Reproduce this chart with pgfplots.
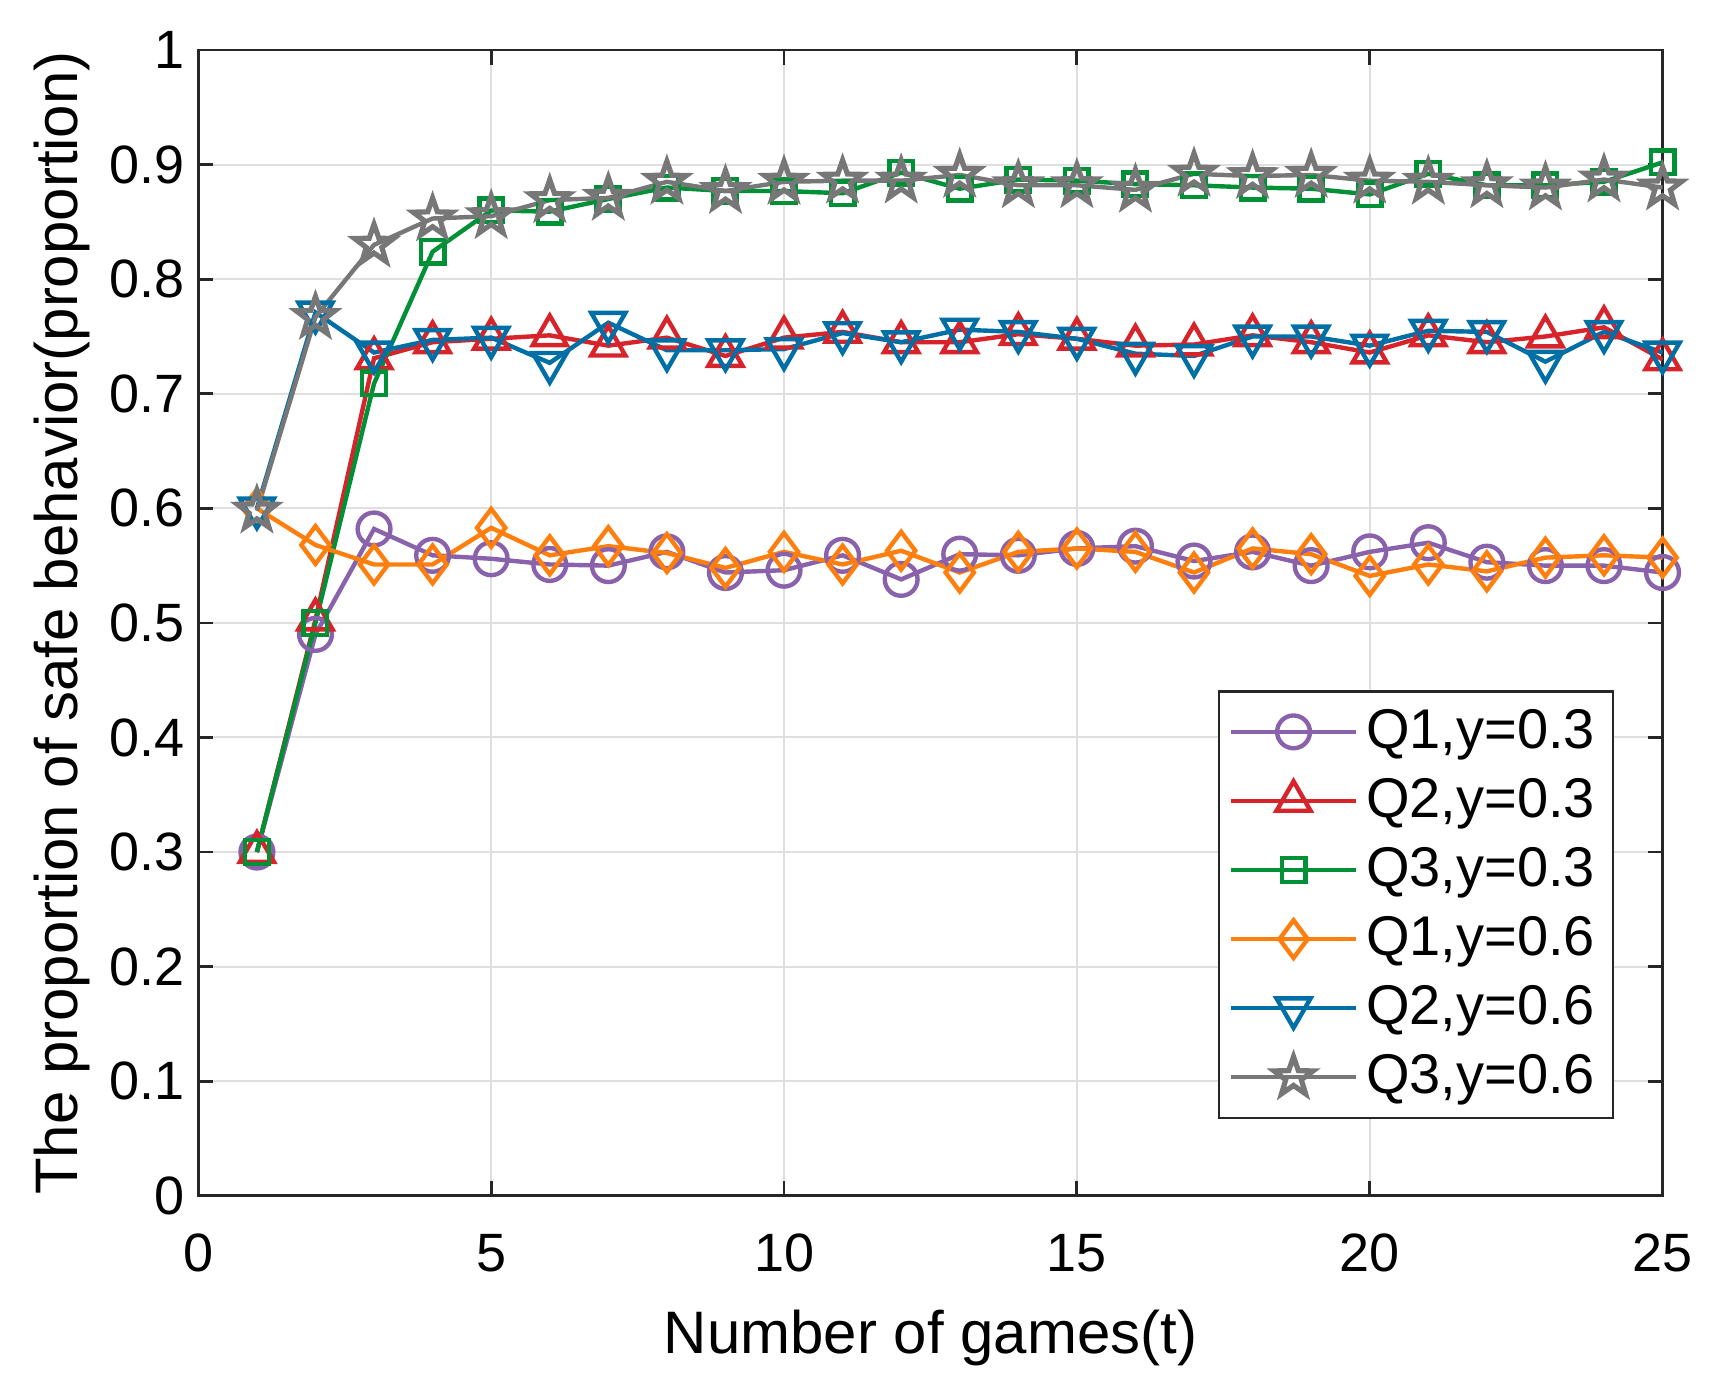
\documentclass[border=0pt]{standalone}
\usepackage{fontspec}
\setmainfont{Liberation Sans}
\usepackage{pgfplots}
\pgfplotsset{compat=1.18}

\definecolor{cpurple}{RGB}{137,98,171}
\definecolor{cred}{RGB}{215,36,43}
\definecolor{cgreen}{RGB}{0,144,54}
\definecolor{corange}{RGB}{255,127,14}
\definecolor{cblue}{RGB}{0,111,166}
\definecolor{cgray}{RGB}{119,119,119}

% five-pointed star outline, like MATLAB's pentagram
\pgfdeclareplotmark{pentagram}{%
  \pgfpathmoveto{\pgfqpointpolar{90}{1.25\pgfplotmarksize}}%
  \pgfpathlineto{\pgfqpointpolar{126}{0.5\pgfplotmarksize}}%
  \pgfpathlineto{\pgfqpointpolar{162}{1.25\pgfplotmarksize}}%
  \pgfpathlineto{\pgfqpointpolar{198}{0.5\pgfplotmarksize}}%
  \pgfpathlineto{\pgfqpointpolar{234}{1.25\pgfplotmarksize}}%
  \pgfpathlineto{\pgfqpointpolar{270}{0.5\pgfplotmarksize}}%
  \pgfpathlineto{\pgfqpointpolar{306}{1.25\pgfplotmarksize}}%
  \pgfpathlineto{\pgfqpointpolar{342}{0.5\pgfplotmarksize}}%
  \pgfpathlineto{\pgfqpointpolar{18}{1.25\pgfplotmarksize}}%
  \pgfpathlineto{\pgfqpointpolar{54}{0.5\pgfplotmarksize}}%
  \pgfpathclose
  \pgfusepathqstroke
}

\begin{document}
\begin{tikzpicture}
  \begin{axis}[
    width=12.87cm, height=10.07cm,
    scale only axis,
    xmin=0, xmax=25, ymin=0, ymax=1,
    xtick={0,5,10,15,20,25},
    ytick={0,0.1,0.2,0.3,0.4,0.5,0.6,0.7,0.8,0.9,1},
    yticklabels={0,0.1,0.2,0.3,0.4,0.5,0.6,0.7,0.8,0.9,1},
    tick align=inside,
    major tick length=0.13cm,
    grid=major,
    grid style={gray!25, line width=0.5pt},
    axis line style={line width=0.7pt, black!85},
    tick style={line width=0.7pt, black!85},
    ticklabel style={font=\fontsize{13.5}{15}\selectfont},
    xticklabel style={yshift=-6pt},
    /pgf/number format/assume math mode=true,
    xlabel={Number of games(t)},
    ylabel={The proportion of safe behavior(proportion)},
    label style={font=\fontsize{15}{17}\selectfont},
    xlabel style={yshift=-2.5pt},
    ylabel style={yshift=-2pt},
    every axis plot/.append style={line width=1.1pt, mark size=4.1pt, mark options={solid, line width=1.1pt, fill=none}},
    legend style={at={(0.967,0.067)}, anchor=south east, draw=black!85, line width=0.6pt,
      font=\fontsize{14}{16}\selectfont, row sep=2pt, inner sep=2.5pt},
    legend cell align=left,
    legend image code/.code={
      \draw[mark repeat=2, mark phase=2] plot coordinates {(0cm,0cm) (0.55cm,0cm) (1.1cm,0cm)};
    },
  ]
    % Q1, y=0.3
    \addplot[cpurple, mark=o] coordinates {
      (1,0.300) (2,0.490) (3,0.582) (4,0.559) (5,0.556) (6,0.551) (7,0.550)
      (8,0.562) (9,0.544) (10,0.546) (11,0.559) (12,0.538) (13,0.560) (14,0.559)
      (15,0.565) (16,0.567) (17,0.554) (18,0.562) (19,0.550) (20,0.562) (21,0.570)
      (22,0.553) (23,0.550) (24,0.550) (25,0.544)
    };
    \addlegendentry{Q1,y=0.3}
    % Q2, y=0.3
    \addplot[cred, mark=triangle, mark options={solid, line width=1.1pt, fill=none, scale=1.2}] coordinates {
      (1,0.300) (2,0.503) (3,0.731) (4,0.745) (5,0.748) (6,0.751) (7,0.742)
      (8,0.749) (9,0.733) (10,0.749) (11,0.754) (12,0.745) (13,0.745) (14,0.752)
      (15,0.748) (16,0.742) (17,0.743) (18,0.751) (19,0.745) (20,0.736) (21,0.751)
      (22,0.745) (23,0.750) (24,0.758) (25,0.730)
    };
    \addlegendentry{Q2,y=0.3}
    % Q3, y=0.3
    \addplot[cgreen, mark=square, mark options={solid, line width=1.1pt, fill=none, scale=0.72}] coordinates {
      (1,0.300) (2,0.500) (3,0.709) (4,0.824) (5,0.860) (6,0.859) (7,0.870)
      (8,0.880) (9,0.877) (10,0.877) (11,0.875) (12,0.893) (13,0.879) (14,0.887)
      (15,0.886) (16,0.883) (17,0.882) (18,0.880) (19,0.879) (20,0.874) (21,0.892)
      (22,0.882) (23,0.882) (24,0.885) (25,0.902)
    };
    \addlegendentry{Q3,y=0.3}
    % Q1, y=0.6
    \addplot[corange, mark=diamond, mark options={solid, line width=1.1pt, fill=none, scale=1.15}] coordinates {
      (1,0.600) (2,0.568) (3,0.551) (4,0.551) (5,0.583) (6,0.559) (7,0.567)
      (8,0.561) (9,0.548) (10,0.562) (11,0.551) (12,0.563) (13,0.544) (14,0.562)
      (15,0.565) (16,0.562) (17,0.544) (18,0.565) (19,0.560) (20,0.541) (21,0.551)
      (22,0.545) (23,0.557) (24,0.559) (25,0.557)
    };
    \addlegendentry{Q1,y=0.6}
    % Q2, y=0.6
    \addplot[cblue, mark=triangle, mark options={solid, line width=1.1pt, fill=none, scale=1.2, rotate=180}] coordinates {
      (1,0.600) (2,0.771) (3,0.736) (4,0.747) (5,0.749) (6,0.727) (7,0.762)
      (8,0.738) (9,0.738) (10,0.739) (11,0.753) (12,0.745) (13,0.756) (14,0.754)
      (15,0.748) (16,0.735) (17,0.733) (18,0.750) (19,0.750) (20,0.742) (21,0.755)
      (22,0.754) (23,0.728) (24,0.754) (25,0.736)
    };
    \addlegendentry{Q2,y=0.6}
    % Q3, y=0.6
    \addplot[cgray, mark=pentagram, mark options={solid, line width=1.3pt, fill=none}] coordinates {
      (1,0.598) (2,0.767) (3,0.830) (4,0.853) (5,0.855) (6,0.869) (7,0.871)
      (8,0.885) (9,0.877) (10,0.885) (11,0.886) (12,0.886) (13,0.891) (14,0.882)
      (15,0.882) (16,0.878) (17,0.892) (18,0.890) (19,0.891) (20,0.886) (21,0.885)
      (22,0.882) (23,0.880) (24,0.887) (25,0.880)
    };
    \addlegendentry{Q3,y=0.6}
  \end{axis}
  % white margins as in the original
  \path (current bounding box.north west) ++(-0.18cm,0.16cm);
  \path (current bounding box.south east) ++(0.08cm,-0.12cm);
\end{tikzpicture}
\end{document}
